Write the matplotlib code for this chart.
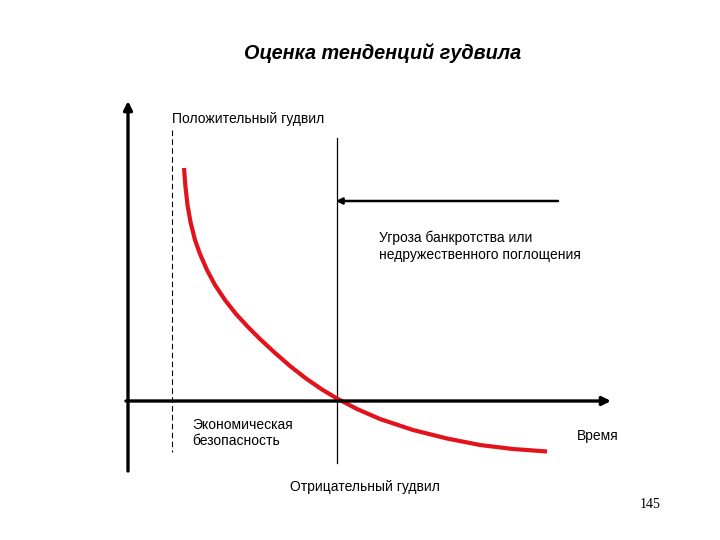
import matplotlib
matplotlib.use("Agg")
import matplotlib.pyplot as plt
import numpy as np

plt.rcParams['font.family'] = ['Liberation Sans', 'DejaVu Sans']

# кривая гудвила (в пикселях картинки)
curve_x = [184, 185.5, 187.5, 190.5, 195, 200, 207, 215, 225, 236, 248, 260, 274, 290, 306, 322,
           337, 357, 380, 413, 447, 480, 513, 547]
curve_y = [168, 187, 205, 222, 240, 254, 270, 285, 300, 314, 327, 339, 352, 366, 378.5, 389.5,
           398.5, 409, 419, 430, 438.5, 445, 449, 451.5]

title = "Оценка тенденций гудвила"
label_pos = "Положительный гудвил"
label_neg = "Отрицательный гудвил"
label_threat = "Угроза банкротства или\nнедружественного поглощения"
label_safe = "Экономическая\nбезопасность"
label_time = "Время"
page_num = "145"

fig = plt.figure(figsize=(7.2, 5.4), dpi=100)
ax = fig.add_axes([0, 0, 1, 1])
ax.set_xlim(0, 720)
ax.set_ylim(540, 0)
ax.axis('off')

# оси
ax.annotate("", xy=(128, 101), xytext=(128, 471),
            arrowprops=dict(arrowstyle='-|>,head_length=0.5,head_width=0.25', lw=2.4, color='black',
                            shrinkA=0, shrinkB=0))
ax.annotate("", xy=(611, 401), xytext=(126, 401),
            arrowprops=dict(arrowstyle='-|>,head_length=0.5,head_width=0.25', lw=2.4, color='black',
                            shrinkA=0, shrinkB=0))

# пунктир и вертикальная линия
ax.plot([172, 172], [130, 452], color='black', lw=0.8, ls=(0, (5, 3)))
ax.plot([337, 337], [138, 463], color='black', lw=0.9)

# стрелка угрозы
ax.annotate("", xy=(336, 201), xytext=(558, 201),
            arrowprops=dict(arrowstyle='-|>,head_length=0.35,head_width=0.18', lw=1.8, color='black',
                            shrinkA=0, shrinkB=0))

ax.plot(curve_x, curve_y, color='#e3121b', lw=3.0, solid_capstyle='butt', solid_joinstyle='round')

ax.text(383, 53, title, ha='center', va='center', fontsize=14.3,
        fontweight='bold', fontstyle='italic')
ax.text(172, 119, label_pos, ha='left', va='center', fontsize=10)
ax.text(379, 246, label_threat, ha='left', va='center', fontsize=10, linespacing=1.25)
ax.text(192, 433, label_safe, ha='left', va='center', fontsize=10, linespacing=1.25)
ax.text(577, 436, label_time, ha='left', va='center', fontsize=10)
ax.text(290, 487, label_neg, ha='left', va='center', fontsize=10)
ax.text(640, 505, page_num, ha='left', va='center', fontsize=10,
        family=['Liberation Serif', 'DejaVu Serif'])

fig.savefig("out.png", dpi=100)
